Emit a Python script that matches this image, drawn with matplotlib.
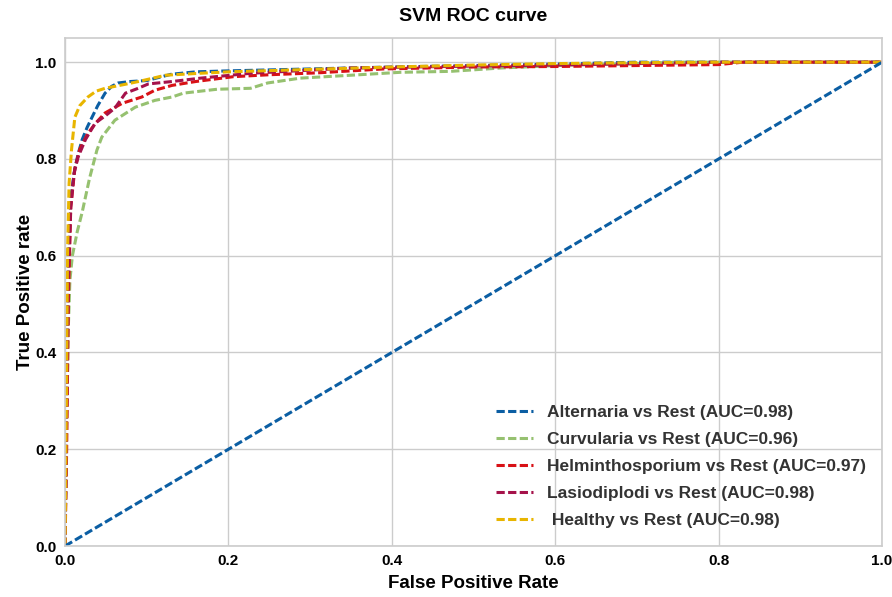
import matplotlib.pyplot as plt

plt.rcParams['font.family'] = ['Liberation Sans', 'DejaVu Sans']

# ROC points
alt_fpr = [0, 0.002, 0.004, 0.007, 0.012, 0.016, 0.021, 0.027, 0.033, 0.04, 0.049, 0.057, 0.065,
           0.08, 0.10, 0.13, 0.16, 0.2, 0.3, 0.4, 0.5, 0.6, 0.7, 0.8, 1.0]
alt_tpr = [0, 0.3, 0.6, 0.72, 0.78, 0.81, 0.84, 0.865, 0.886, 0.91, 0.936, 0.95, 0.957,
           0.96, 0.962, 0.975, 0.98, 0.982, 0.986, 0.99, 0.993, 0.996, 1.0, 1.0, 1.0]

cur_fpr = [0, 0.002, 0.004, 0.006, 0.009, 0.015, 0.021, 0.03, 0.039, 0.045, 0.061, 0.086, 0.11,
           0.131, 0.145, 0.186, 0.227, 0.248, 0.288, 0.35, 0.41, 0.472, 0.534, 0.616, 0.7, 0.75, 1.0]
cur_tpr = [0, 0.25, 0.45, 0.55, 0.6, 0.65, 0.69, 0.76, 0.818, 0.845, 0.88, 0.907, 0.921,
           0.928, 0.936, 0.944, 0.946, 0.957, 0.967, 0.973, 0.979, 0.981, 0.988, 0.994, 0.997, 1.0, 1.0]

hel_fpr = [0, 0.002, 0.004, 0.007, 0.012, 0.018, 0.028, 0.038, 0.049, 0.07, 0.094, 0.11, 0.131,
           0.16, 0.206, 0.25, 0.31, 0.39, 0.5, 0.6, 0.7, 0.8, 0.83, 1.0]
hel_tpr = [0, 0.2, 0.5, 0.7, 0.78, 0.82, 0.853, 0.875, 0.895, 0.915, 0.928, 0.942, 0.952,
           0.96, 0.97, 0.974, 0.978, 0.986, 0.99, 0.991, 0.993, 0.995, 1.0, 1.0]

las_fpr = [0, 0.002, 0.004, 0.007, 0.011, 0.016, 0.025, 0.037, 0.05, 0.061, 0.074, 0.088, 0.102,
           0.131, 0.166, 0.227, 0.35, 0.5, 0.6, 0.7, 0.8, 1.0]
las_tpr = [0, 0.3, 0.55, 0.7, 0.77, 0.804, 0.84, 0.874, 0.89, 0.905, 0.936, 0.945, 0.955,
           0.96, 0.967, 0.977, 0.988, 0.992, 0.994, 0.997, 1.0, 1.0]

hea_fpr = [0, 0.002, 0.003, 0.005, 0.008, 0.012, 0.018, 0.028, 0.038, 0.049, 0.07, 0.09, 0.123,
           0.165, 0.2, 0.3, 0.4, 0.5, 0.6, 0.7, 0.8, 1.0]
hea_tpr = [0, 0.35, 0.6, 0.75, 0.82, 0.886, 0.91, 0.928, 0.94, 0.946, 0.953, 0.96, 0.973,
           0.977, 0.98, 0.985, 0.99, 0.994, 0.997, 0.999, 1.0, 1.0]

labels = ['Alternaria vs Rest (AUC=0.98)', 'Curvularia vs Rest (AUC=0.96)',
          'Helminthosporium vs Rest (AUC=0.97)', 'Lasiodiplodi vs Rest (AUC=0.98)',
          ' Healthy vs Rest (AUC=0.98)']
colors = ['#0b5ea3', '#96c170', '#d81116', '#a5124a', '#e8b500']

curves = [(alt_fpr, alt_tpr), (cur_fpr, cur_tpr), (hel_fpr, hel_tpr),
          (las_fpr, las_tpr), (hea_fpr, hea_tpr)]

fig = plt.figure(figsize=(8.92, 5.97), dpi=100)
ax = fig.add_axes([0.0729, 0.0854, 0.916, 0.851])

for (f, t), lab, c in zip(curves, labels, colors):
    ax.plot(f, t, color=c, lw=2.2, dashes=(2.7, 1.1), label=lab)
ax.plot([0, 1], [0, 1], color='#0b5ea3', lw=2.2, dashes=(2.7, 1.1))

ax.set_xlim(0, 1.0)
ax.set_ylim(0, 1.05)
ax.set_xticks([0, 0.2, 0.4, 0.6, 0.8, 1.0])
ax.set_yticks([0, 0.2, 0.4, 0.6, 0.8, 1.0])
ax.grid(True, color='#cccccc', lw=1)
ax.set_axisbelow(True)
for s in ax.spines.values():
    s.set_color('#cccccc')
    s.set_linewidth(1.2)
ax.tick_params(length=0, pad=6, labelsize=11)
for lbl in ax.get_xticklabels() + ax.get_yticklabels():
    lbl.set_fontweight('bold')

ax.set_title('SVM ROC curve', fontsize=14, fontweight='bold', pad=12)
ax.set_xlabel('False Positive Rate', fontsize=13.5, fontweight='bold', labelpad=5)
ax.set_ylabel('True Positive rate', fontsize=13.5, fontweight='bold', labelpad=1)

leg = ax.legend(loc='lower right', frameon=False, fontsize=12.5, labelspacing=0.68,
                handlelength=2.1, handletextpad=0.85, bbox_to_anchor=(1.0, 0.005))
for txt in leg.get_texts():
    txt.set_fontweight('bold')
    txt.set_color('#333333')

fig.savefig('out.png', dpi=100)
